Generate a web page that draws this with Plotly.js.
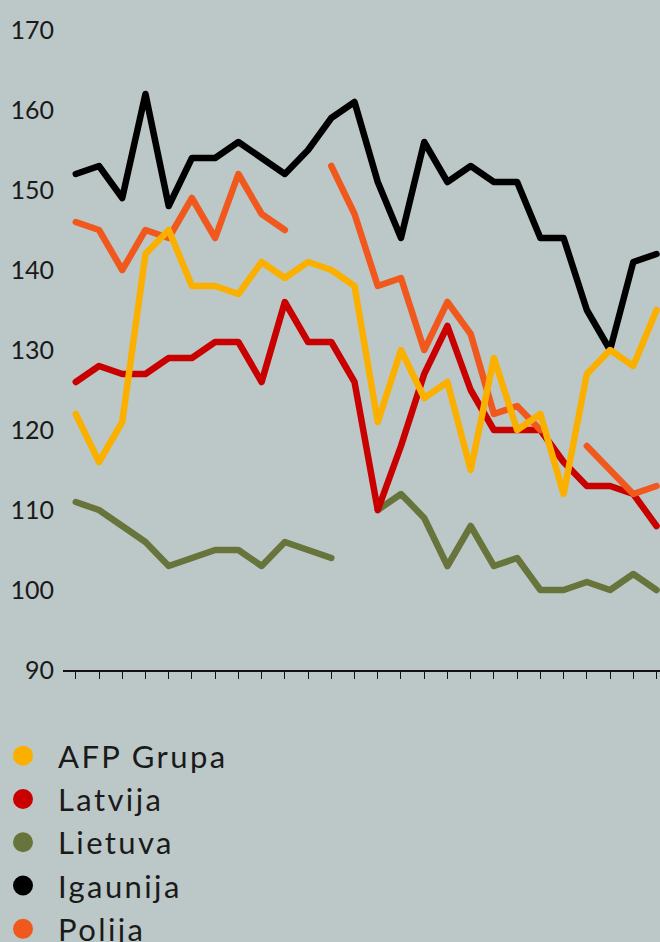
<!DOCTYPE html>
<html>
<head>
<meta charset="utf-8">
<script src="https://cdn.plot.ly/plotly-3.0.1.min.js"></script>
<style>
  html, body { margin: 0; padding: 0; background: #bcc8c7; }
  #chart { width: 660px; height: 942px; }
  .js-line { stroke-linejoin: round !important; stroke-linecap: round !important; }
  .legendtext { letter-spacing: 2.4px; }
</style>
</head>
<body>
<div id="chart"></div>
<script>
// 26 periods (no labels shown on the axis)
const periods = [1,2,3,4,5,6,7,8,9,10,11,12,13,14,15,16,17,18,19,20,21,22,23,24,25,26];

const afpGrupa = [122,116,121,142,145,138,138,137,141,139,141,140,138,121,130,124,126,115,129,120,122,112,127,130,128,135];
const latvija  = [126,128,127,127,129,129,131,131,126,136,131,131,126,110,118,127,133,125,120,120,120,116,113,113,112,108];
const lietuva  = [111,110,108,106,103,104,105,105,103,106,105,104,null,110,112,109,103,108,103,104,100,100,101,100,102,100];
const igaunija = [152,153,149,162,148,154,154,156,154,152,155,159,161,151,144,156,151,153,151,151,144,144,135,130,141,142];
const polija   = [146,145,140,145,144,149,144,152,147,145,null,153,147,138,139,130,136,132,122,123,120,null,118,115,112,113];

const yTicks = [90,100,110,120,130,140,150,160,170];

const seriesNames  = ['AFP Grupa','Latvija','Lietuva','Igaunija','Polija'];
const seriesValues = [afpGrupa, latvija, lietuva, igaunija, polija];
const seriesColors = ['#fbb000','#c80000','#67743c','#000000','#f1581d'];
// drawing order, bottom to top
const drawOrder = [3, 2, 1, 4, 0];

const traces = [];
drawOrder.forEach(function (k) {
  traces.push({
    type: 'scatter', mode: 'lines',
    x: periods, y: seriesValues[k],
    line: { color: seriesColors[k], width: 6.5 },
    connectgaps: false, showlegend: false, hoverinfo: 'skip'
  });
});
// legend entries (dot markers) in legend order
seriesNames.forEach(function (name, k) {
  traces.push({
    type: 'scatter', mode: 'markers', name: name,
    x: [null], y: [null],
    marker: { color: seriesColors[k], size: 16, line: { color: seriesColors[k], width: 4 } },
    showlegend: true
  });
});

const layout = {
  width: 660, height: 942,
  paper_bgcolor: '#bcc8c7', plot_bgcolor: '#bcc8c7',
  margin: { l: 63, r: 0, t: 30, b: 272, autoexpand: false },
  font: { family: 'Lato, "Open Sans", sans-serif', color: '#1a1a1a' },
  xaxis: {
    range: [0.45, 26.15],
    tickvals: periods, showticklabels: false,
    ticks: 'outside', ticklen: 7, tickwidth: 1, tickcolor: '#111',
    showline: true, linecolor: '#111', linewidth: 1.5,
    showgrid: false, zeroline: false, fixedrange: true
  },
  yaxis: {
    range: [90, 170],
    tickvals: yTicks, ticks: '',
    tickfont: { size: 25, color: '#1a1a1a' },
    ticklabelstandoff: 8,
    showline: false, showgrid: false, zeroline: false, fixedrange: true
  },
  showlegend: true,
  legend: {
    x: -75 / 597, xref: 'paper', xanchor: 'left',
    y: -59 / 640, yref: 'paper', yanchor: 'top',
    bgcolor: 'rgba(0,0,0,0)',
    font: { size: 31, color: '#1a1a1a' },
    itemwidth: 60,
    traceorder: 'normal'
  }
};

Plotly.newPlot('chart', traces, layout, { staticPlot: true, displayModeBar: false });
</script>
</body>
</html>
